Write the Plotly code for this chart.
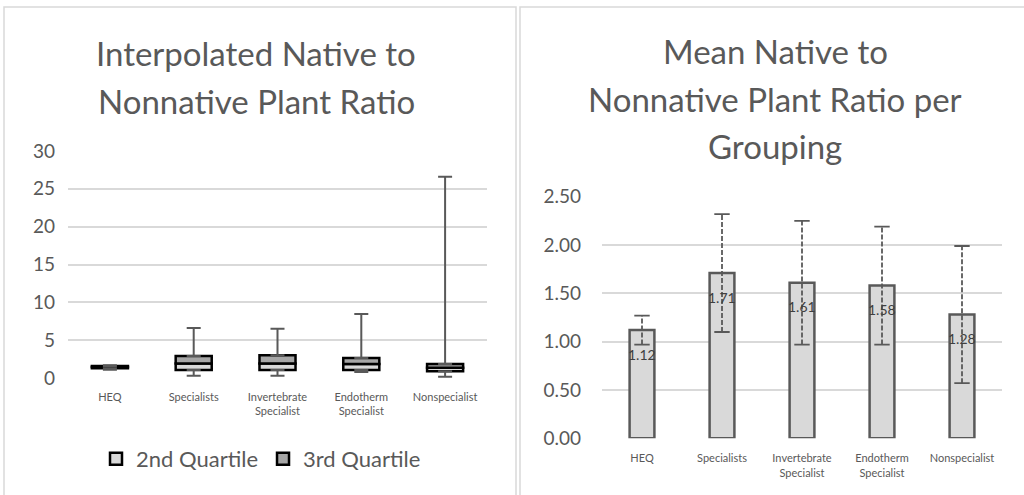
import plotly.graph_objects as go

# ---------------- data ----------------
categories = ["HEQ", "Specialists", "Invertebrate<br>Specialist", "Endotherm<br>Specialist", "Nonspecialist"]

# left chart: box-plot style (from stacked quartiles + whiskers)
q_min = [1.1, 0.3, 0.3, 0.8, 0.15]
q1 = [1.3, 1.05, 1.05, 1.05, 0.9]
median = [1.45, 1.9, 1.9, 1.85, 1.35]
q3 = [1.6, 2.9, 3.0, 2.65, 1.85]
q_max = [1.7, 6.6, 6.5, 8.45, 26.6]

# right chart: means with error bars
means = [1.12, 1.71, 1.61, 1.58, 1.28]
errors = [0.15, 0.61, 0.64, 0.61, 0.71]

left_title = ["Interpolated Native to", "Nonnative Plant Ratio"]
right_title = ["Mean Native to", "Nonnative Plant Ratio per", "Grouping"]

FONT = "Lato"
TXT = "#595959"
GRID = "#d9d9d9"

fig = go.Figure()

# ---------- left: quartile boxes ----------
second_q = [m - a for m, a in zip(median, q1)]
third_q = [b - m for b, m in zip(q3, median)]
fig.add_trace(go.Bar(
    x=categories, y=second_q, base=q1, name="2nd Quartile", width=0.43,
    marker=dict(color="#d9d9d9", line=dict(color="#000000", width=2.5)),
    xaxis="x", yaxis="y", legendrank=1))
fig.add_trace(go.Bar(
    x=categories, y=third_q, base=median, name="3rd Quartile", width=0.43,
    marker=dict(color="#a6a6a6", line=dict(color="#000000", width=2.5)),
    xaxis="x", yaxis="y", legendrank=2))

# whiskers
fig.add_trace(go.Scatter(
    x=categories, y=q3, mode="markers", marker=dict(size=1, color="rgba(0,0,0,0)"),
    error_y=dict(type="data", symmetric=False, array=[b - a for b, a in zip(q_max, q3)],
                 arrayminus=[0] * len(q3), color="#595959", thickness=2, width=7),
    showlegend=False, hoverinfo="skip", xaxis="x", yaxis="y"))
fig.add_trace(go.Scatter(
    x=categories, y=q1, mode="markers", marker=dict(size=1, color="rgba(0,0,0,0)"),
    error_y=dict(type="data", symmetric=False, array=[0] * len(q1),
                 arrayminus=[a - b for a, b in zip(q1, q_min)], color="#595959", thickness=2, width=7),
    showlegend=False, hoverinfo="skip", xaxis="x", yaxis="y"))

# ---------- right: mean bars ----------
fig.add_trace(go.Bar(
    x=categories, y=means, width=0.31, showlegend=False,
    marker=dict(color="#d9d9d9", line=dict(color="#595959", width=2.5)),
    xaxis="x2", yaxis="y2"))

# dashed error bars
ex, ey = [], []
for c, m, e in zip(categories, means, errors):
    ex += [c, c, None]
    ey += [m - e, m + e, None]
fig.add_trace(go.Scatter(
    x=ex, y=ey, mode="lines", line=dict(color="#595959", width=1.8, dash="5px,2px"),
    showlegend=False, hoverinfo="skip", xaxis="x2", yaxis="y2"))
cx, cy = [], []
for c, m, e in zip(categories, means, errors):
    cx += [c, c]
    cy += [m - e, m + e]
fig.add_trace(go.Scatter(
    x=cx, y=cy, mode="markers",
    marker=dict(symbol="line-ew", size=11, line=dict(color="#595959", width=1.8)),
    showlegend=False, hoverinfo="skip", xaxis="x2", yaxis="y2"))

annotations = []
for c, m in zip(categories, means):
    annotations.append(dict(x=c, y=m, xref="x2", yref="y2", text=f"{m:.2f}", showarrow=False,
                            yshift=-24, font=dict(family=FONT, size=14, color="#404040")))

# titles
for t, yp in zip(left_title, [53, 101]):
    annotations.append(dict(x=256 / 1024, y=1 - yp / 495, xref="paper", yref="paper", text=t,
                            showarrow=False, xanchor="center", yanchor="middle",
                            font=dict(family=FONT, size=33, color=TXT)))
for t, yp in zip(right_title, [51, 99, 146]):
    annotations.append(dict(x=775 / 1024, y=1 - yp / 495, xref="paper", yref="paper", text=t,
                            showarrow=False, xanchor="center", yanchor="middle",
                            font=dict(family=FONT, size=33, color=TXT)))

shapes = [
    dict(type="rect", xref="paper", yref="paper", x0=4 / 1024, x1=516 / 1024, y0=-0.02, y1=1 - 7 / 495,
         line=dict(color="#d9d9d9", width=1.5), fillcolor="rgba(0,0,0,0)", layer="below"),
    dict(type="rect", xref="paper", yref="paper", x0=520 / 1024, x1=1.02, y0=-0.02, y1=1 - 7 / 495,
         line=dict(color="#d9d9d9", width=1.5), fillcolor="rgba(0,0,0,0)", layer="below"),
]

axis_common = dict(showline=False, zeroline=False, ticks="", fixedrange=True, automargin=False)

fig.update_layout(
    width=1024, height=495, margin=dict(l=0, r=0, t=0, b=0, autoexpand=False),
    paper_bgcolor="white", plot_bgcolor="white",
    barmode="overlay",
    font=dict(family=FONT, color=TXT),
    xaxis=dict(domain=[68 / 1024, 487 / 1024], anchor="y", showgrid=False,
               tickfont=dict(size=11, color=TXT), ticklabelstandoff=11, **axis_common),
    yaxis=dict(domain=[117 / 495, 344 / 495], anchor="x", range=[0, 30], dtick=5,
               gridcolor=GRID, gridwidth=1.5, tickfont=dict(size=19, color=TXT),
               ticklabelstandoff=12, **axis_common),
    xaxis2=dict(domain=[602 / 1024, 1002 / 1024], anchor="y2", showgrid=False,
                tickfont=dict(size=11, color=TXT), ticklabelstandoff=12, **axis_common),
    yaxis2=dict(domain=[56.7 / 495, 298.3 / 495], anchor="x2", range=[0, 2.5], dtick=0.5,
                tickformat=".2f", gridcolor=GRID, gridwidth=1.5, tickfont=dict(size=19, color=TXT),
                ticklabelstandoff=20, **axis_common),
    legend=dict(orientation="h", x=96 / 1024, y=36 / 495, xanchor="left", yanchor="middle",
                font=dict(family=FONT, size=22, color=TXT), bgcolor="rgba(0,0,0,0)",
                traceorder="normal"),
    annotations=annotations,
    shapes=shapes,
)

fig.write_html("out.html", config={"displayModeBar": False},
               post_script="document.body.style.margin='0';")
